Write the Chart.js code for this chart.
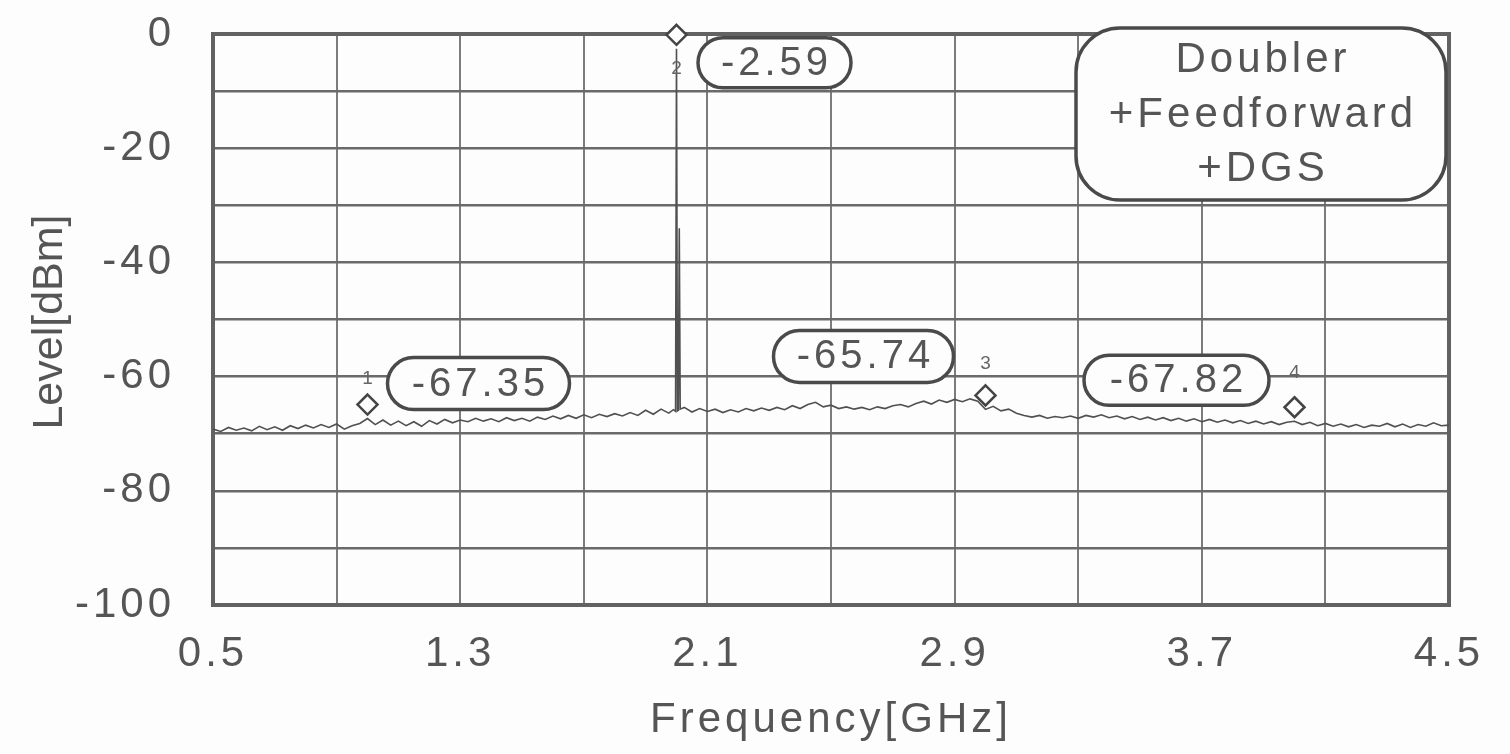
<!DOCTYPE html>
<html><head><meta charset="utf-8">
<script src="https://cdn.jsdelivr.net/npm/chart.js@4.4.1/dist/chart.umd.min.js"></script>
<style>html,body{margin:0;padding:0;background:#fdfdfd;}#wrap{width:1510px;height:754px;position:relative}</style>
</head><body><div id="wrap"><canvas id="c" width="1510" height="754"></canvas></div>
<script>
const freqGHz = [
0.500,0.525,0.550,0.575,0.600,0.625,0.650,0.675,0.700,0.725,0.750,0.775,0.800,0.825,0.850,0.875,0.900,0.925,0.950,0.975,
1.000,1.025,1.050,1.075,1.100,1.125,1.150,1.175,1.200,1.225,1.250,1.275,1.300,1.325,1.350,1.375,1.400,1.425,1.450,1.475,
1.500,1.525,1.550,1.575,1.600,1.625,1.650,1.675,1.700,1.725,1.750,1.775,1.800,1.825,1.850,1.875,1.900,1.925,1.950,1.975,
1.990,1.997,2.000,2.003,2.006,2.009,2.012,2.025,2.050,2.075,2.100,2.125,2.150,2.175,2.200,2.225,2.250,2.275,2.300,2.325,
2.350,2.375,2.400,2.425,2.450,2.475,2.500,2.525,2.550,2.575,2.600,2.625,2.650,2.675,2.700,2.725,2.750,2.775,2.800,2.825,
2.850,2.875,2.900,2.925,2.950,2.975,3.000,3.025,3.050,3.075,3.100,3.125,3.150,3.175,3.200,3.225,3.250,3.275,3.300,3.325,
3.350,3.375,3.400,3.425,3.450,3.475,3.500,3.525,3.550,3.575,3.600,3.625,3.650,3.675,3.700,3.725,3.750,3.775,3.800,3.825,
3.850,3.875,3.900,3.925,3.950,3.975,4.000,4.025,4.050,4.075,4.100,4.125,4.150,4.175,4.200,4.225,4.250,4.275,4.300,4.325,
4.350,4.375,4.400,4.425,4.450,4.475,4.500
];
const levelDbm = [
-69.2,-69.6,-68.9,-69.4,-69.0,-69.5,-68.7,-69.3,-68.8,-69.4,-68.6,-69.1,-68.5,-69.0,-68.4,-68.9,-68.3,-69.2,-68.6,-68.2,
-67.35,-68.4,-67.6,-68.5,-67.8,-68.6,-67.9,-68.7,-67.7,-68.3,-67.5,-68.1,-67.6,-67.9,-67.3,-67.8,-67.4,-67.9,-67.2,-67.7,
-67.3,-67.8,-67.1,-67.5,-66.9,-67.4,-66.8,-67.3,-66.7,-67.2,-66.6,-67.0,-66.5,-66.9,-66.3,-66.8,-65.9,-66.6,-65.7,-66.4,
-65.8,-66.1,-2.59,-66.0,-65.9,-34.0,-65.7,-65.4,-66.2,-65.6,-66.1,-65.7,-66.3,-65.8,-66.2,-65.6,-66.0,-65.5,-65.9,-65.4,
-65.8,-65.1,-65.6,-64.9,-64.5,-65.3,-65.0,-65.6,-65.3,-65.7,-65.4,-65.8,-65.3,-65.6,-65.1,-64.9,-65.3,-64.7,-64.3,-64.8,
-64.1,-64.5,-64.0,-64.4,-63.9,-64.3,-65.74,-65.2,-66.0,-65.7,-66.4,-66.8,-67.1,-66.8,-67.3,-67.0,-67.2,-66.9,-67.3,-66.8,
-67.1,-66.7,-67.2,-66.9,-67.4,-67.0,-67.5,-67.1,-67.6,-67.2,-67.7,-67.3,-67.8,-67.4,-67.9,-67.5,-68.0,-67.6,-68.1,-67.7,
-68.2,-67.8,-68.3,-67.9,-68.4,-68.0,-67.82,-68.4,-68.0,-68.6,-68.2,-68.7,-68.3,-68.8,-68.4,-68.9,-68.5,-68.7,-68.2,-68.8,
-68.3,-68.9,-68.4,-68.7,-68.1,-68.6,-68.5
];
const markerFreq = [1.0, 2.0, 3.0, 4.0];
const markerLevel = [-67.35, -2.59, -65.74, -67.82];
const markerText = ['-67.35', '-2.59', '-65.74', '-67.82'];
const markerNum = ['1', '2', '3', '4'];
const xGridValues = [0.5, 0.9, 1.3, 1.7, 2.1, 2.5, 2.9, 3.3, 3.7, 4.1, 4.5];
const xTickLabels = ['0.5', '1.3', '2.1', '2.9', '3.7', '4.5'];
const yTickLabels = ['-100', '-80', '-60', '-40', '-20', '0'];
const legendLines = ['Doubler', '+Feedforward', '+DGS'];
const xAxisTitle = 'Frequency[GHz]';
const yAxisTitle = 'Level[dBm]';

const FONT = "'Liberation Sans', Arial, sans-serif";
const TXT = '#555555';

const markerLayout = {
  num: [{dx:0, dy:-40}, {dx:0, dy:20}, {dx:0, dy:-46}, {dx:0, dy:-48}],
  box: [{dx:111, dy:-35, w:182, h:52}, {dx:98, dy:14, w:153, h:50}, {dx:-122, dy:-53, w:180, h:52}, {dx:-118, dy:-41, w:185, h:50}]
};

const decor = {
  id: 'decor',
  beforeLayout(chart) { chart.ctx.letterSpacing = '4px'; },
  beforeDraw(chart) {
    const ctx = chart.ctx;
    ctx.save();
    ctx.fillStyle = '#fdfdfd';
    ctx.fillRect(0, 0, chart.width, chart.height);
    ctx.restore();
    ctx.letterSpacing = '4px';
  },
  beforeDatasetsDraw(chart) {
    const {ctx, chartArea: a} = chart;
    ctx.save();
    ctx.strokeStyle = '#626262';
    ctx.lineWidth = 4;
    ctx.strokeRect(a.left, a.top, a.right - a.left, a.bottom - a.top);
    ctx.restore();
  },
  afterDatasetsDraw(chart) {
    const {ctx, scales: {x, y}} = chart;
    ctx.save();
    markerFreq.forEach((f, i) => {
      const px = x.getPixelForValue(f), py = y.getPixelForValue(markerLevel[i]);
      const cy = py - 14, r = 10;
      ctx.beginPath();
      ctx.moveTo(px, cy - r); ctx.lineTo(px + r, cy); ctx.lineTo(px, cy + r); ctx.lineTo(px - r, cy); ctx.closePath();
      ctx.fillStyle = '#fdfdfd'; ctx.fill();
      ctx.strokeStyle = '#444'; ctx.lineWidth = 2.5; ctx.stroke();
      ctx.letterSpacing = '0px';
      ctx.font = '19px ' + FONT;
      ctx.fillStyle = '#666';
      ctx.textAlign = 'center'; ctx.textBaseline = 'middle';
      const n = markerLayout.num[i];
      ctx.fillText(markerNum[i], px + n.dx, py + n.dy);
      const b = markerLayout.box[i];
      const bx = px + b.dx - b.w / 2, by = py + b.dy - b.h / 2;
      ctx.beginPath();
      ctx.roundRect(bx, by, b.w, b.h, b.h / 2);
      ctx.fillStyle = '#fdfdfd'; ctx.fill();
      ctx.strokeStyle = '#4a4a4a'; ctx.lineWidth = 3.5; ctx.stroke();
      ctx.letterSpacing = '4px';
      ctx.font = '40px ' + FONT;
      ctx.fillStyle = TXT;
      ctx.fillText(markerText[i], px + b.dx + 2, py + b.dy + 1);
    });
    ctx.beginPath();
    ctx.roundRect(1076, 28, 370, 172, 44);
    ctx.fillStyle = '#fdfdfd'; ctx.fill();
    ctx.strokeStyle = '#4a4a4a'; ctx.lineWidth = 3.5; ctx.stroke();
    ctx.font = '42px ' + FONT;
    ctx.fillStyle = TXT;
    ctx.textAlign = 'center'; ctx.textBaseline = 'middle';
    ctx.letterSpacing = '4px';
    const ly = [60, 115, 169];
    legendLines.forEach((t, i) => ctx.fillText(t, 1263, ly[i]));
    ctx.letterSpacing = '0px';
    ctx.translate(50, 322);
    ctx.rotate(-Math.PI / 2);
    ctx.font = '43px ' + FONT;
    ctx.fillText(yAxisTitle, 0, 0);
    ctx.restore();
    ctx.letterSpacing = '4px';
  }
};

const near = (a, b) => Math.abs(a - b) < 1e-6;

new Chart(document.getElementById('c'), {
  type: 'scatter',
  data: {
    datasets: [{
      data: freqGHz.map((f, i) => ({x: f, y: levelDbm[i]})),
      showLine: true,
      borderColor: '#505050',
      borderWidth: 1.6,
      pointRadius: 0,
      tension: 0
    }]
  },
  options: {
    responsive: false,
    animation: false,
    devicePixelRatio: 1,
    layout: {padding: {top: 34, right: 61, bottom: 0, left: 0}},
    plugins: {legend: {display: false}, tooltip: {enabled: false}},
    scales: {
      x: {
        type: 'linear', min: 0.5, max: 4.5,
        afterBuildTicks: s => { s.ticks = xGridValues.map(v => ({value: v})); },
        afterFit: s => { s.height = 149; s.paddingLeft = 0; s.paddingRight = 0; },
        grid: {color: '#7c7c7c', lineWidth: 2, drawTicks: false},
        border: {display: false},
        ticks: {
          padding: 24, color: TXT, autoSkip: false, maxRotation: 0,
          font: {family: FONT, size: 42},
          callback: v => { const t = xTickLabels.find(l => near(parseFloat(l), v)); return t === undefined ? '' : t; }
        },
        title: {display: true, text: xAxisTitle, color: TXT, font: {family: FONT, size: 42}, padding: {top: 0, bottom: 8}}
      },
      y: {
        type: 'linear', min: -100, max: 0,
        ticks: {
          stepSize: 10, padding: 38, color: TXT,
          font: {family: FONT, size: 42},
          callback: v => { const t = yTickLabels.find(l => near(parseFloat(l), v)); return t === undefined ? '' : t; }
        },
        afterFit: s => { s.width = 213; s.paddingTop = 0; s.paddingBottom = 0; },
        grid: {color: '#6a6a6a', lineWidth: 2.5, drawTicks: false},
        border: {display: false},
        title: {display: false}
      }
    }
  },
  plugins: [decor]
});
</script></body></html>
